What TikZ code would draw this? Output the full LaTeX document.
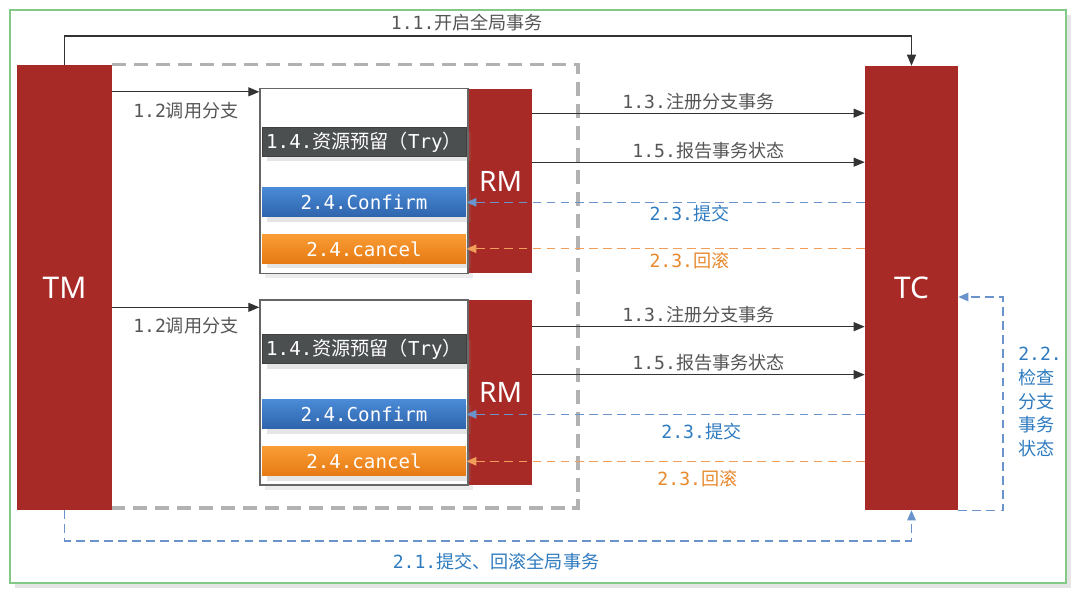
\documentclass[tikz,border=0pt]{standalone}
\usepackage{fontspec}
\setmainfont{DejaVu Sans Mono}
\newfontfamily\cjk{Noto Sans CJK SC}
\newfontfamily\tagfont{Noto Sans}
\usetikzlibrary{arrows.meta,positioning,calc,shadows}
\definecolor{tmred}{RGB}{168,42,39}
\definecolor{trygray}{RGB}{75,79,80}
\definecolor{okblueT}{RGB}{74,138,214}
\definecolor{okblueB}{RGB}{46,100,172}
\definecolor{noorangeT}{RGB}{250,156,52}
\definecolor{noorangeB}{RGB}{230,122,20}
\definecolor{dashblue}{RGB}{106,147,204}
\definecolor{dashorange}{RGB}{240,158,90}
\definecolor{txtblue}{RGB}{47,123,192}
\definecolor{txtorange}{RGB}{232,137,46}
\definecolor{txtgray}{RGB}{85,85,85}
\definecolor{framegreen}{RGB}{130,200,135}
\newcommand{\zh}[1]{{\cjk #1}}

\begin{document}
\begin{tikzpicture}[x=0.02cm, y=-0.02cm,
  font=\fontsize{10.3}{12}\selectfont,
  actor/.style={fill=tmred, text=white, font=\tagfont\fontsize{17}{19}\selectfont, inner sep=0pt},
  branch/.style={draw=black!60, fill=white, line width=0.8pt, minimum width=4.16cm,
                 minimum height=3.7cm, inner sep=0pt, drop shadow={opacity=0.15}},
  stage/.style={minimum width=4.08cm, minimum height=0.58cm, inner sep=0pt, text=white,
                font=\fontsize{10.9}{12}\selectfont, drop shadow={opacity=0.2}},
  trybox/.style={stage, fill=trygray, draw=black!75, line width=0.4pt},
  okbox/.style={stage, top color=okblueT, bottom color=okblueB},
  nobox/.style={stage, top color=noorangeT, bottom color=noorangeB},
  arr/.style={-{Triangle[length=2.2mm,width=1.8mm]}, line width=0.6pt, draw=black!80},
  commit/.style={-{Triangle[length=2mm,width=1.7mm]}, line width=0.6pt, draw=dashblue,
                 dash pattern=on 5pt off 3pt},
  rollback/.style={-{Triangle[length=2mm,width=1.7mm]}, line width=0.6pt, draw=dashorange,
                 dash pattern=on 5pt off 3pt},
  lbl/.style={text=txtgray, inner sep=1.5pt},
  bluelbl/.style={text=txtblue, inner sep=1.5pt},
  orangelbl/.style={text=txtorange, inner sep=1.5pt}]
% canvas and outer frame
\fill[white] (0,0) rectangle (1086,595);
\useasboundingbox (0,0) rectangle (1086,595);
\draw[framegreen, line width=0.8pt, fill=white, drop shadow={opacity=0.2}] (10,10) rectangle (1066,583);

% managers
\node[actor, minimum width=1.9cm, minimum height=8.9cm] (TM) at (64.5,287.5) {TM};
\node[actor, minimum width=1.86cm, minimum height=8.88cm] (TC) at (911.5,288) {TC};

% scope of the branches
\coordinate (DC) at (578,508);
\draw[black!30, line width=2pt, dash pattern=on 8pt off 4.5pt] (TM.north east) -| (DC) -- (TM.east |- DC);

% branch 1
\node[branch] (B1) at (364,181) {};
\node[actor, anchor=west, minimum width=1.26cm, minimum height=3.7cm,
      font=\tagfont\fontsize{16}{18}\selectfont] (R1) at (B1.east) {RM};
\node[trybox] (T1) at ($(B1.north)+(0,54)$) {1.4.\zh{资源预留（}Try\zh{）}};
\node[okbox] (C1) at ($(B1.north)+(0,114.5)$) {2.4.Confirm};
\node[nobox] (K1) at ($(B1.north)+(0,161)$) {2.4.cancel};

% branch 2
\node[branch] (B2) at (364,392.5) {};
\node[actor, anchor=west, minimum width=1.26cm, minimum height=3.7cm,
      font=\tagfont\fontsize{16}{18}\selectfont] (R2) at (B2.east) {RM};
\node[trybox] (T2) at ($(B2.north)+(0,50)$) {1.4.\zh{资源预留（}Try\zh{）}};
\node[okbox] (C2) at ($(B2.north)+(0,115)$) {2.4.Confirm};
\node[nobox] (K2) at ($(B2.north)+(0,162)$) {2.4.cancel};

% global transaction
\coordinate (top) at (488,36);
\draw[arr] (TM.north) |- (top) -| (TC.north);
\node[lbl, above=1pt of top, xshift=-0.42cm] (L11) {1.1.\zh{开启全局事务}};
\coordinate (low) at (488,541);
\draw[commit] (TM.south) |- (low) -| (TC.south);
\node[bluelbl, below=5pt of low, xshift=0.16cm] (L21) {2.1.\zh{提交、回滚全局事务}};
\coordinate (chk) at (1003,402);
\coordinate (back) at ($(TC.east)+(0,9)$);
\draw[commit] (TC.south east) -| (chk) |- (back);
\node[text=txtblue, right=7pt of chk, align=left, inner sep=1.5pt,
      font=\fontsize{10.3}{13.4}\selectfont] (L22) {2.2.\\\zh{检查}\\\zh{分支}\\\zh{事务}\\\zh{状态}};

% calls into branch 1
\coordinate (in1) at ($(B1.north west)+(0,4)$);
\draw[arr] (TM.east |- in1) -- (in1) node[lbl, midway, below=4pt] {1.2\zh{调用分支}};
\coordinate (reg1) at ($(R1.north east)+(0,25)$);
\coordinate (rep1) at ($(R1.north east)+(0,74)$);
\draw[arr] (reg1) -- (TC.west |- reg1) node[lbl, midway, above] {1.3.\zh{注册分支事务}};
\draw[arr] (rep1) -- (TC.west |- rep1) node[lbl, midway, above, xshift=0.2cm] {1.5.\zh{报告事务状态}};
\draw[commit] (TC.west |- C1.east) -- (C1.east) node[bluelbl, pos=0.44, below] {2.3.\zh{提交}};
\draw[rollback] (TC.west |- K1.east) -- (K1.east) node[orangelbl, pos=0.44, below] {2.3.\zh{回滚}};

% calls into branch 2
\coordinate (in2) at ($(B2.north west)+(0,8)$);
\draw[arr] (TM.east |- in2) -- (in2) node[lbl, midway, below=4pt] {1.2\zh{调用分支}};
\coordinate (reg2) at ($(R2.north east)+(0,27)$);
\coordinate (rep2) at ($(R2.north east)+(0,75)$);
\draw[arr] (reg2) -- (TC.west |- reg2) node[lbl, midway, above] {1.3.\zh{注册分支事务}};
\draw[arr] (rep2) -- (TC.west |- rep2) node[lbl, midway, above, xshift=0.2cm] {1.5.\zh{报告事务状态}};
\draw[commit] (TC.west |- C2.east) -- (C2.east) node[bluelbl, pos=0.41, below=3pt] {2.3.\zh{提交}};
\draw[rollback] (TC.west |- K2.east) -- (K2.east) node[orangelbl, pos=0.42, below=3pt] {2.3.\zh{回滚}};
\end{tikzpicture}
\end{document}
